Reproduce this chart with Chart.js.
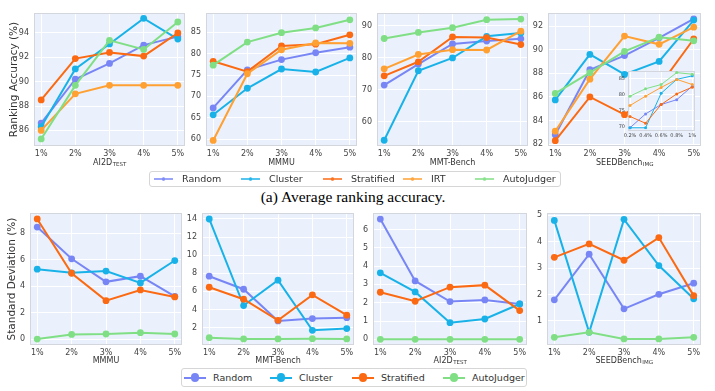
<!DOCTYPE html>
<html>
<head>
<meta charset="utf-8">
<script src="https://cdn.jsdelivr.net/npm/chart.js@4.4.1/dist/chart.umd.min.js"></script>
<style>
  html, body { margin: 0; padding: 0; background: #fff; }
  body { width: 715px; height: 391px; position: relative; overflow: hidden; font-family: 'DejaVu Sans', sans-serif; }
  .box { position: absolute; }
  .box canvas { display: block; }
  .legend { position: absolute; box-sizing: border-box; border: 1px solid #d6d6d6; border-radius: 3px; background: #fff; color: #333; font-size: 9.5px; z-index: 5; }
  .line, .dot, .txt { position: absolute; top: 50%; }
  .dot { border-radius: 50%; }
  .txt { transform: translateY(-52%); white-space: nowrap; }
  .caption { position: absolute; left: 0; width: 706px; text-align: center; font-family: 'Liberation Serif', 'Times New Roman', serif; font-size: 15.5px; color: #000; }
</style>
</head>
<body>
<div class="caption" style="top:188px">(a) Average ranking accuracy.</div>
<script>
const pcts = ['1%', '2%', '3%', '4%', '5%'];
const insetPcts = ['0.2%', '0.4%', '0.6%', '0.8%', '1%'];
const methods = ['Random', 'Cluster', 'Stratified', 'IRT', 'AutoJudger'];
const colors = ['#7886f5', '#19b2e8', '#fb6a12', '#ffa033', '#80df85'];
const stdMethods = ['Random', 'Cluster', 'Stratified', 'AutoJudger'];
const stdColors = ['#7886f5', '#19b2e8', '#fb6a12', '#80df85'];

// ranking accuracy (%), rows follow `methods`
const accAI2D = [
  [86.6, 90.2, 91.5, 93.0, 93.7],
  [86.3, 91.05, 93.1, 95.2, 93.5],
  [88.5, 91.9, 92.4, 92.1, 94.0],
  [86.0, 89.0, 89.7, 89.7, 89.7],
  [85.3, 89.7, 93.4, 92.65, 94.9]
];
const accMMMU = [
  [67.3, 76.2, 78.6, 80.2, 81.5],
  [65.7, 71.9, 76.4, 75.7, 79.0],
  [78.2, 75.8, 81.8, 82.2, 84.4],
  [59.7, 75.3, 80.9, 82.5, 82.4],
  [77.3, 82.7, 84.9, 86.0, 87.9]
];
const accMMT = [
  [71.4, 78.0, 84.3, 85.2, 85.9],
  [54.1, 75.9, 79.9, 86.7, 87.7],
  [74.3, 78.7, 86.5, 86.3, 84.1],
  [76.5, 81.0, 82.5, 82.4, 88.3],
  [86.0, 87.9, 89.4, 91.9, 92.1]
];
const accSEED = [
  [82.8, 88.3, 89.5, 91.0, 92.6],
  [85.75, 89.6, 87.9, 89.0, 92.5],
  [82.3, 86.0, 84.5, 86.9, 90.9],
  [83.1, 87.5, 91.15, 90.45, 91.9],
  [86.3, 88.05, 89.85, 91.05, 90.75]
];
// inset: SEEDBench at 0.2% - 1%
const accSEEDsmall = [
  [69.7, 74.0, 76.9, 78.4, 82.6],
  [69.7, 69.7, 80.4, 84.7, 85.8],
  [73.2, 71.1, 76.9, 80.2, 82.3],
  [76.6, 79.5, 82.2, 84.7, 83.1],
  [79.5, 81.8, 83.1, 86.8, 86.3]
];

// standard deviation (%), rows follow `stdMethods`
const stdMMMU = [
  [8.46, 6.06, 4.32, 4.75, 3.23],
  [5.28, 5.0, 5.13, 4.24, 5.93],
  [9.07, 4.97, 2.9, 3.71, 3.18],
  [0.0, 0.35, 0.38, 0.48, 0.38]
];
const stdMMT = [
  [7.68, 6.24, 2.74, 3.0, 3.1],
  [14.0, 4.44, 7.24, 1.7, 1.89],
  [6.46, 5.14, 2.81, 5.62, 3.37],
  [0.89, 0.75, 0.75, 0.78, 0.75]
];
const stdAI2D = [
  [6.57, 3.19, 2.06, 2.15, 1.93],
  [3.63, 2.59, 0.91, 1.11, 1.93],
  [2.57, 2.08, 2.85, 2.96, 1.57],
  [0, 0, 0, 0, 0]
];
const stdSEED = [
  [1.8, 3.53, 1.46, 2.01, 2.43],
  [4.81, 0.57, 4.85, 3.1, 1.84],
  [3.41, 3.92, 3.3, 4.16, 1.96],
  [0.38, 0.57, 0.32, 0.32, 0.38]
];

const yTicksAI2D = [86, 88, 90, 92, 94];
const yTicksMMMU = [60, 65, 70, 75, 80, 85];
const yTicksMMT = [60, 70, 80, 90];
const yTicksSEED = [82, 84, 86, 88, 90, 92];
const yTicksInset = [70, 75, 80, 85];
const yTicksStdMMMU = [0, 2, 4, 6, 8];
const yTicksStdMMT = [2, 4, 6, 8, 10, 12, 14];
const yTicksStdAI2D = [0, 1, 2, 3, 4, 5, 6];
const yTicksStdSEED = [1, 2, 3, 4, 5];

Chart.defaults.font.family = "'DejaVu Sans', sans-serif";
const BG = '#eaf1fc';

// plot background + thin grey frame
const framePlugin = {
  id: 'frame',
  beforeDraw(chart) {
    const a = chart.chartArea, c = chart.ctx;
    c.save();
    c.fillStyle = BG;
    c.fillRect(a.left, a.top, a.right - a.left, a.bottom - a.top);
    c.restore();
  },
  beforeDatasetsDraw(chart) {
    const a = chart.chartArea, c = chart.ctx;
    c.save();
    c.strokeStyle = '#d3d7dd';
    c.lineWidth = 1;
    c.strokeRect(a.left + 0.5, a.top + 0.5, a.right - a.left - 1, a.bottom - a.top - 1);
    c.restore();
  }
};

// x axis title with an optional subscript part
const subTitlePlugin = {
  id: 'subTitle',
  afterDraw(chart, args, o) {
    if (!o.main) return;
    const c = chart.ctx, a = chart.chartArea;
    const f1 = "8px 'DejaVu Sans'", f2 = "5.5px 'DejaVu Sans'";
    c.save();
    c.fillStyle = '#333';
    c.textBaseline = 'middle';
    c.textAlign = 'left';
    c.font = f1;
    const w1 = c.measureText(o.main).width;
    c.font = f2;
    const w2 = o.sub ? c.measureText(o.sub).width : 0;
    const x = (a.left + a.right) / 2 - (w1 + w2) / 2;
    const y = a.bottom + o.dy;
    c.font = f1;
    c.fillText(o.main, x, y);
    if (o.sub) {
      c.font = f2;
      c.fillText(o.sub, x + w1 + 0.5, y + 2);
    }
    c.restore();
  }
};

function plot(cfg) {
  const div = document.createElement('div');
  div.className = 'box';
  div.style.left = (cfg.x - cfg.yw) + 'px';
  div.style.top = (cfg.y - cfg.padT) + 'px';
  div.style.width = (cfg.yw + cfg.w + cfg.padR) + 'px';
  div.style.height = (cfg.padT + cfg.h + cfg.xh) + 'px';
  if (cfg.z) div.style.zIndex = cfg.z;
  const cv = document.createElement('canvas');
  div.appendChild(cv);
  document.body.appendChild(div);

  const n = cfg.series.length;
  new Chart(cv, {
    type: 'line',
    data: {
      datasets: cfg.series.map((vals, i) => ({
        label: cfg.names[i],
        data: vals.map((v, j) => ({ x: cfg.xs[j], y: v })),
        borderColor: cfg.colors[i],
        backgroundColor: cfg.colors[i],
        borderWidth: cfg.lw,
        pointRadius: cfg.r,
        pointBorderWidth: 0,
        tension: 0,
        order: n - i
      }))
    },
    options: {
      responsive: true,
      maintainAspectRatio: false,
      animation: false,
      events: [],
      layout: { padding: { top: cfg.padT, right: cfg.padR, left: 0, bottom: 0 } },
      plugins: {
        legend: { display: false },
        tooltip: { enabled: false },
        subTitle: { main: cfg.main, sub: cfg.sub, dy: cfg.titleDy }
      },
      scales: {
        x: {
          type: 'linear',
          min: cfg.xMin,
          max: cfg.xMax,
          afterBuildTicks: s => { s.ticks = cfg.xs.map(v => ({ value: v })); },
          afterFit: s => { s.height = cfg.xh; },
          ticks: {
            callback: (v, i) => cfg.xLabels[i],
            font: { size: cfg.fs },
            color: '#444',
            padding: cfg.tpx,
            maxRotation: 0,
            autoSkip: false
          },
          grid: { color: '#ffffff', lineWidth: 1, drawTicks: false },
          border: { display: false }
        },
        y: {
          min: cfg.yMin,
          max: cfg.yMax,
          afterBuildTicks: s => { s.ticks = cfg.yTicks.map(v => ({ value: v })); },
          afterFit: s => { s.width = cfg.yw; },
          ticks: { font: { size: cfg.fs }, color: '#444', padding: cfg.tpy, autoSkip: false },
          grid: { color: '#ffffff', lineWidth: 1, drawTicks: false },
          border: { display: false },
          title: cfg.yTitle ? {
            display: true,
            text: cfg.yTitle,
            font: { size: 10.5 },
            color: '#333',
            padding: { top: cfg.titlePad, bottom: 0 }
          } : { display: false }
        }
      }
    },
    plugins: [framePlugin, subTitlePlugin]
  });
}

const xs = [1, 2, 3, 4, 5];
const base = { xs: xs, xLabels: pcts, xMin: 0.79, xMax: 5.21, padT: 10, padR: 6, xh: 24, fs: 8, tpx: 3, tpy: 5, lw: 2, r: 3.4, titleDy: 17 };

// (a) ranking accuracy
const topRow = [
  { x: 34, w: 151, series: accAI2D, yTicks: yTicksAI2D, yMin: 84.72, yMax: 95.64, main: 'AI2D', sub: 'TEST', yw: 34, yTitle: 'Ranking Accuracy (%)', titlePad: 7.5 },
  { x: 206, w: 151, series: accMMMU, yTicks: yTicksMMMU, yMin: 58.4, yMax: 89.5, main: 'MMMU', yw: 30 },
  { x: 377, w: 151, series: accMMT, yTicks: yTicksMMT, yMin: 52.3, yMax: 94.0, main: 'MMT-Bench', yw: 30 },
  { x: 548, w: 153, series: accSEED, yTicks: yTicksSEED, yMin: 81.85, yMax: 93.1, main: 'SEEDBench', sub: 'IMG', yw: 30 }
];
topRow.forEach(p => plot(Object.assign({}, base, p, { y: 13, h: 133, names: methods, colors: colors })));

// inset of the SEEDBench panel
plot({
  x: 628, y: 71, w: 67, h: 60, yw: 12, xh: 9, padT: 6, padR: 4, z: 3,
  series: accSEEDsmall, names: methods, colors: colors,
  xs: [0.2, 0.4, 0.6, 0.8, 1.0], xLabels: insetPcts, xMin: 0.174, xMax: 1.035,
  yTicks: yTicksInset, yMin: 68.7, yMax: 87.3,
  fs: 5, tpx: 2, tpy: 3, lw: 1, r: 1.5
});

// standard deviation row
const bottomRow = [
  { x: 30, w: 152, series: stdMMMU, yTicks: yTicksStdMMMU, yMin: -0.45, yMax: 9.52, main: 'MMMU', yw: 30, yTitle: 'Standard Deviation (%)', titlePad: 6.2 },
  { x: 202, w: 152, series: stdMMT, yTicks: yTicksStdMMT, yMin: 0.08, yMax: 14.66, main: 'MMT-Bench', yw: 30 },
  { x: 373, w: 154, series: stdAI2D, yTicks: yTicksStdAI2D, yMin: -0.31, yMax: 6.9, main: 'AI2D', sub: 'TEST', yw: 30 },
  { x: 547, w: 154, series: stdSEED, yTicks: yTicksStdSEED, yMin: 0.09, yMax: 5.09, main: 'SEEDBench', sub: 'IMG', yw: 30 }
];
bottomRow.forEach(p => plot(Object.assign({}, base, p, { y: 213, h: 132, titleDy: 16, names: stdMethods, colors: stdColors })));

// legends
function legend(box, names, cols, offs, o) {
  const el = document.createElement('div');
  el.className = 'legend';
  el.style.left = box[0] + 'px';
  el.style.top = box[1] + 'px';
  el.style.width = box[2] + 'px';
  el.style.height = box[3] + 'px';
  names.forEach((name, k) => {
    const x = offs[k];
    const ln = document.createElement('div');
    ln.className = 'line';
    ln.style.cssText = `left:${x}px;width:${o.len}px;height:${o.lw}px;margin-top:${-o.lw / 2}px;background:${cols[k]};opacity:${o.alpha}`;
    const dt = document.createElement('div');
    dt.className = 'dot';
    dt.style.cssText = `left:${x + o.len / 2 - o.r}px;width:${2 * o.r}px;height:${2 * o.r}px;margin-top:${-o.r}px;background:${cols[k]};opacity:${o.alpha}`;
    const tx = document.createElement('div');
    tx.className = 'txt';
    tx.style.left = (x + o.text) + 'px';
    tx.textContent = name;
    el.appendChild(ln);
    el.appendChild(dt);
    el.appendChild(tx);
  });
  document.body.appendChild(el);
}
legend([149, 171, 412, 16], methods, colors, [4, 91, 173, 253, 325], { len: 19, lw: 1.5, r: 1.6, alpha: 0.75, text: 28 });
legend([181, 368, 346, 19], stdMethods, stdColors, [2, 88, 170, 261], { len: 22, lw: 2, r: 4.2, alpha: 1, text: 29 });
</script>
</body>
</html>
